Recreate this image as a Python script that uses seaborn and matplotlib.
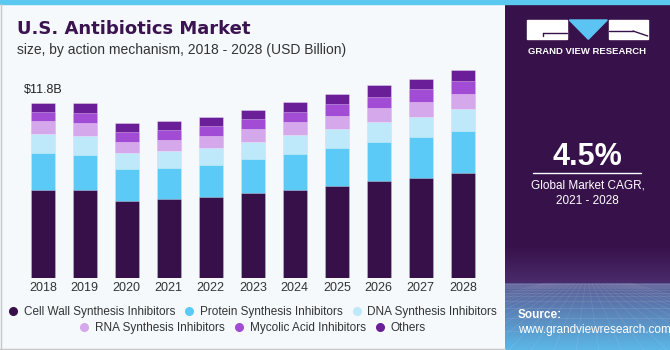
import numpy as np
import pandas as pd
import matplotlib.pyplot as plt
import seaborn as sns
from matplotlib.lines import Line2D
from matplotlib.patches import Rectangle, Polygon

# --- data (USD billion) ---
years = ['2018', '2019', '2020', '2021', '2022', '2023', '2024', '2025', '2026', '2027', '2028']
cell_wall = [5.91, 5.91, 5.22, 5.31, 5.46, 5.71, 5.95, 6.22, 6.52, 6.74, 7.06]
protein = [2.51, 2.37, 2.11, 2.12, 2.15, 2.28, 2.40, 2.51, 2.62, 2.74, 2.84]
dna = [1.30, 1.26, 1.08, 1.12, 1.14, 1.16, 1.26, 1.30, 1.36, 1.38, 1.46]
rna = [0.85, 0.87, 0.76, 0.76, 0.81, 0.85, 0.87, 0.89, 0.96, 0.99, 1.05]
mycolic = [0.60, 0.72, 0.63, 0.65, 0.65, 0.69, 0.71, 0.77, 0.72, 0.85, 0.87]
others = [0.63, 0.67, 0.63, 0.60, 0.60, 0.65, 0.65, 0.69, 0.81, 0.71, 0.74]

segments = ['Cell Wall Synthesis Inhibitors', 'Protein Synthesis Inhibitors', 'DNA Synthesis Inhibitors',
            'RNA Synthesis Inhibitors', 'Mycolic Acid Inhibitors', 'Others']
colors = ['#37104A', '#5CCAF6', '#BDE9FA', '#D5A8EC', '#A24CD6', '#6A1F99']

df = pd.DataFrame({'Year': years, segments[0]: cell_wall, segments[1]: protein, segments[2]: dna,
                   segments[3]: rna, segments[4]: mycolic, segments[5]: others})
cum = df[segments].cumsum(axis=1)
totals = cum[segments[-1]]

sns.set_theme(style="white")
plt.rcParams['font.family'] = ['Liberation Sans', 'DejaVu Sans']

W, H = 670, 350
fig = plt.figure(figsize=(6.7, 3.5), dpi=100)
fig.patch.set_facecolor('#F5F9FC')

# background / decoration axes in pixel coordinates
bg = fig.add_axes([0, 0, 1, 1])
bg.set_xlim(0, W)
bg.set_ylim(H, 0)
bg.axis('off')

# right panel with gradient at the bottom
px0 = 505
n = 346
grad = np.zeros((n, 1, 3))
top_c = np.array([0x37, 0x11, 0x4A]) / 255
hor_c = np.array([0x4A, 0x2C, 0x6C]) / 255
low1 = np.array([0x5A, 0x5C, 0x94]) / 255
low2 = np.array([0x5C, 0xB8, 0xE8]) / 255
for i in range(n):
    y = 4 + i
    if y < 245:
        c = top_c
    elif y < 283:
        t = (y - 245) / 38
        c = top_c * (1 - t) + hor_c * t
    else:
        t = (y - 283) / 67
        c = low1 * (1 - t) + low2 * t
    grad[i, 0] = c
bg.imshow(grad, extent=[px0, W, H, 4], aspect='auto', zorder=1)
# faint grid texture
for yy in np.geomspace(1, 67, 14):
    bg.plot([px0, W], [283 + yy, 283 + yy], color='white', alpha=0.12, lw=0.5, zorder=2)
for xx in np.linspace(px0 - 200, W + 200, 26):
    bg.plot([587 + (xx - 587) * 0.15, xx], [283, H], color='white', alpha=0.10, lw=0.5, zorder=2)

# top stripe and borders
bg.add_patch(Rectangle((0, 0), W, 4, color='#5BC8F0', zorder=3))
bg.plot([0.5, 0.5], [4, H], color='#C8C8C8', lw=1, zorder=3)
bg.plot([0, px0], [348.5, 348.5], color='#C8C8C8', lw=1, zorder=3)

# logo
bg.add_patch(Rectangle((527.3, 20), 40, 19.3, color='white', zorder=4))
bg.plot([543, 567.3], [32.5, 32.5], color='#37114A', lw=1, zorder=5)
bg.plot([543, 543], [32.5, 35.5], color='#37114A', lw=1, zorder=5)
bg.add_patch(Polygon([(569.3, 20), (607.3, 20), (588.3, 39.3)], color='#5CC4F2', zorder=4))
bg.add_patch(Rectangle((608.7, 20), 39, 19.3, color='white', zorder=4))
bg.plot([608.7, 633], [31, 31], color='#37114A', lw=1, zorder=5)
bg.plot([633, 647.7], [31, 36], color='#37114A', lw=1, zorder=5)
bg.text(587.5, 51, 'GRAND VIEW RESEARCH', color='white', fontsize=6.8, fontweight='bold',
        ha='center', va='center', zorder=5)

# CAGR block
bg.text(587.5, 157, '4.5%', color='white', fontsize=22, fontweight='bold', ha='center', va='center', zorder=5)
bg.plot([533, 641], [173.3, 173.3], color='white', lw=1, zorder=5)
bg.text(587.5, 185, 'Global Market CAGR,', color='white', fontsize=8.5, ha='center', va='center', zorder=5)
bg.text(587.5, 200.5, '2021 - 2028', color='white', fontsize=8.5, ha='center', va='center', zorder=5)
bg.text(518, 315, 'Source:', color='white', fontsize=8.5, fontweight='bold', ha='left', va='center', zorder=5)
bg.text(518, 329.5, 'www.grandviewresearch.com', color='white', fontsize=8.5, ha='left', va='center', zorder=5)

# titles
bg.text(17, 29, 'U.S. Antibiotics Market', color='#3A1350', fontsize=13, fontweight='bold',
        family=['DejaVu Sans'], ha='left', va='center', zorder=5)
bg.text(17, 50, 'size, by action mechanism, 2018 - 2028 (USD Billion)', color='#333333', fontsize=10,
        ha='left', va='center', zorder=5)

# --- main stacked bar chart ---
ax = fig.add_axes([21.8 / W, (H - 278.3) / H, 462 / W, 215.8 / H])
ax.set_facecolor('none')
for seg, col in reversed(list(zip(segments, colors))):
    sns.barplot(x=df['Year'], y=cum[seg], color=col, saturation=1, width=0.58, errorbar=None,
                edgecolor=(1, 1, 1, 0.45), linewidth=0.5, ax=ax)
ax.set_xlim(-0.5, len(years) - 0.5)
ax.set_ylim(0, 14.5)
ax.set_xlabel('')
ax.set_ylabel('')
ax.set_yticks([])
ax.tick_params(axis='x', length=0, pad=3, labelsize=9, labelcolor='#333333')
for s in ax.spines.values():
    s.set_visible(False)
ax.annotate(f'${totals[0]:.1f}B', xy=(0, totals[0]), xytext=(0, 9), textcoords='offset points',
            ha='center', va='center', fontsize=9, color='#222222')

# legend in two centred rows
handles = [Line2D([], [], marker='o', ls='', markersize=5.5, markerfacecolor=c, markeredgecolor=c)
           for c in colors]
leg_kw = dict(frameon=False, fontsize=8.5, handlelength=0.6, handletextpad=0.6, columnspacing=0.9,
              labelcolor='#333333', ncol=3, loc='center', borderpad=0, borderaxespad=0)
fig.legend(handles[:3], segments[:3], bbox_to_anchor=(253.2 / W, 1 - 311.7 / H), **leg_kw)
fig.legend(handles[3:], segments[3:], bbox_to_anchor=(253.2 / W, 1 - 328.3 / H), **leg_kw)

fig.savefig('out.png', dpi=100, facecolor=fig.get_facecolor())
